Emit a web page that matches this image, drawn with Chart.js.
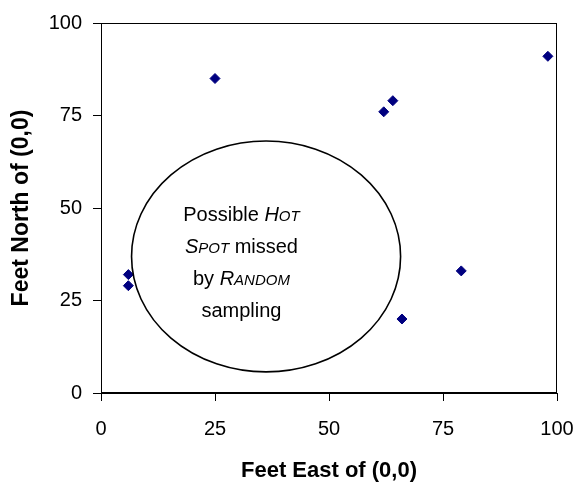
<!DOCTYPE html>
<html>
<head>
<meta charset="utf-8">
<script src="https://cdn.jsdelivr.net/npm/chart.js@4"></script>
<style>
    html, body { margin: 0; padding: 0; background: #fff; }
    #wrap { width: 576px; height: 483px; }
</style>
</head>
<body>
<div id="wrap"><canvas id="sample-chart" width="576" height="483"></canvas></div>
<script>
// sample locations (feet east, feet north)
const eastFeet = [25, 98, 64, 62, 6, 6, 66, 79];
const northFeet = [85, 91, 79, 76, 32, 29, 20, 33];
const axisTicks = [0, 25, 50, 75, 100];

// hot spot ellipse in data units: [centerX, centerY, radiusX, radiusY]
const hotSpot = [36.2, 36.9, 29.5, 31.2];
// label anchor in data units [x, y] and its lines (text, italic, small caps)
const labelAnchor = [30.8, 35.5];
const labelLines = [
    [['Possible ', false, false], ['H', true, false], ['OT', true, true]],
    [['S', true, false], ['POT', true, true], [' missed', false, false]],
    [['by ', false, false], ['R', true, false], ['ANDOM', true, true]],
    [['sampling', false, false]]
];

const fontFamily = 'Arial, "Liberation Sans", sans-serif';

const hotSpotPlugin = {
    id: 'hotSpot',
    afterDatasetsDraw(chart) {
        const { ctx, chartArea, scales: { x, y } } = chart;
        ctx.save();

        // box around the plot area
        ctx.strokeStyle = '#000';
        ctx.lineWidth = 1;
        ctx.strokeRect(chartArea.left + 0.5, chartArea.top + 0.5,
            chartArea.right - chartArea.left - 1, chartArea.bottom - chartArea.top - 1);

        // ellipse
        const cx = x.getPixelForValue(hotSpot[0]);
        const cy = y.getPixelForValue(hotSpot[1]);
        const rx = Math.abs(x.getPixelForValue(hotSpot[0] + hotSpot[2]) - cx);
        const ry = Math.abs(y.getPixelForValue(hotSpot[1] + hotSpot[3]) - cy);
        ctx.beginPath();
        ctx.ellipse(cx, cy, rx, ry, 0, 0, Math.PI * 2);
        ctx.lineWidth = 1.6;
        ctx.stroke();

        // label text with small caps runs
        const size = 20;
        const smallSize = 15;
        const lineGap = 32;
        const fontFor = (italic, small) =>
            `${italic ? 'italic ' : ''}${small ? smallSize : size}px ${fontFamily}`;
        const tx = x.getPixelForValue(labelAnchor[0]);
        const ty = y.getPixelForValue(labelAnchor[1]);
        const startY = ty - (labelLines.length - 1) * lineGap / 2;
        ctx.fillStyle = '#000';
        ctx.textBaseline = 'alphabetic';
        ctx.textAlign = 'left';
        labelLines.forEach((runs, i) => {
            let width = 0;
            runs.forEach(([text, italic, small]) => {
                ctx.font = fontFor(italic, small);
                width += ctx.measureText(text).width;
            });
            let px = tx - width / 2;
            const baseline = startY + i * lineGap + 7;
            runs.forEach(([text, italic, small]) => {
                ctx.font = fontFor(italic, small);
                ctx.fillText(text, px, baseline);
                px += ctx.measureText(text).width;
            });
        });
        ctx.restore();
    }
};

new Chart(document.getElementById('sample-chart'), {
    type: 'scatter',
    data: {
        datasets: [{
            label: 'Samples',
            data: eastFeet.map((e, i) => ({ x: e, y: northFeet[i] })),
            pointStyle: 'rectRot',
            pointRadius: 5,
            pointHoverRadius: 5,
            borderWidth: 1,
            backgroundColor: '#000080',
            borderColor: '#000080'
        }]
    },
    options: {
        responsive: false,
        animation: false,
        layout: { padding: { top: 23, right: 19, left: 0, bottom: 0 } },
        plugins: {
            legend: { display: false },
            tooltip: { enabled: false }
        },
        scales: {
            x: {
                type: 'linear',
                min: 0,
                max: 100,
                afterBuildTicks: (scale) => { scale.ticks = axisTicks.map(v => ({ value: v })); },
                afterFit: (scale) => {
                    scale.height = 90;
                    scale.paddingLeft = 0;
                    scale.paddingRight = 0;
                },
                grid: { display: true, drawOnChartArea: false, drawTicks: true, tickLength: 8, color: '#000' },
                border: { display: true, color: '#000', width: 1 },
                ticks: {
                    color: '#000',
                    padding: 16,
                    maxRotation: 0,
                    font: { family: fontFamily, size: 20 }
                },
                title: {
                    display: true,
                    text: 'Feet East of (0,0)',
                    color: '#000',
                    padding: { top: 0, bottom: 1 },
                    font: { family: fontFamily, size: 22, weight: 'bold', lineHeight: 1 }
                }
            },
            y: {
                type: 'linear',
                min: 0,
                max: 100,
                afterBuildTicks: (scale) => { scale.ticks = axisTicks.map(v => ({ value: v })); },
                afterFit: (scale) => { scale.width = 101; },
                grid: { display: true, drawOnChartArea: false, drawTicks: true, tickLength: 8, color: '#000' },
                border: { display: true, color: '#000', width: 1 },
                ticks: {
                    color: '#000',
                    padding: 11,
                    font: { family: fontFamily, size: 20 }
                },
                title: {
                    display: true,
                    text: 'Feet North of (0,0)',
                    color: '#000',
                    padding: { top: 10, bottom: 0 },
                    font: { family: fontFamily, size: 23, weight: 'bold', lineHeight: 1 }
                }
            }
        }
    },
    plugins: [hotSpotPlugin]
});
</script>
</body>
</html>
